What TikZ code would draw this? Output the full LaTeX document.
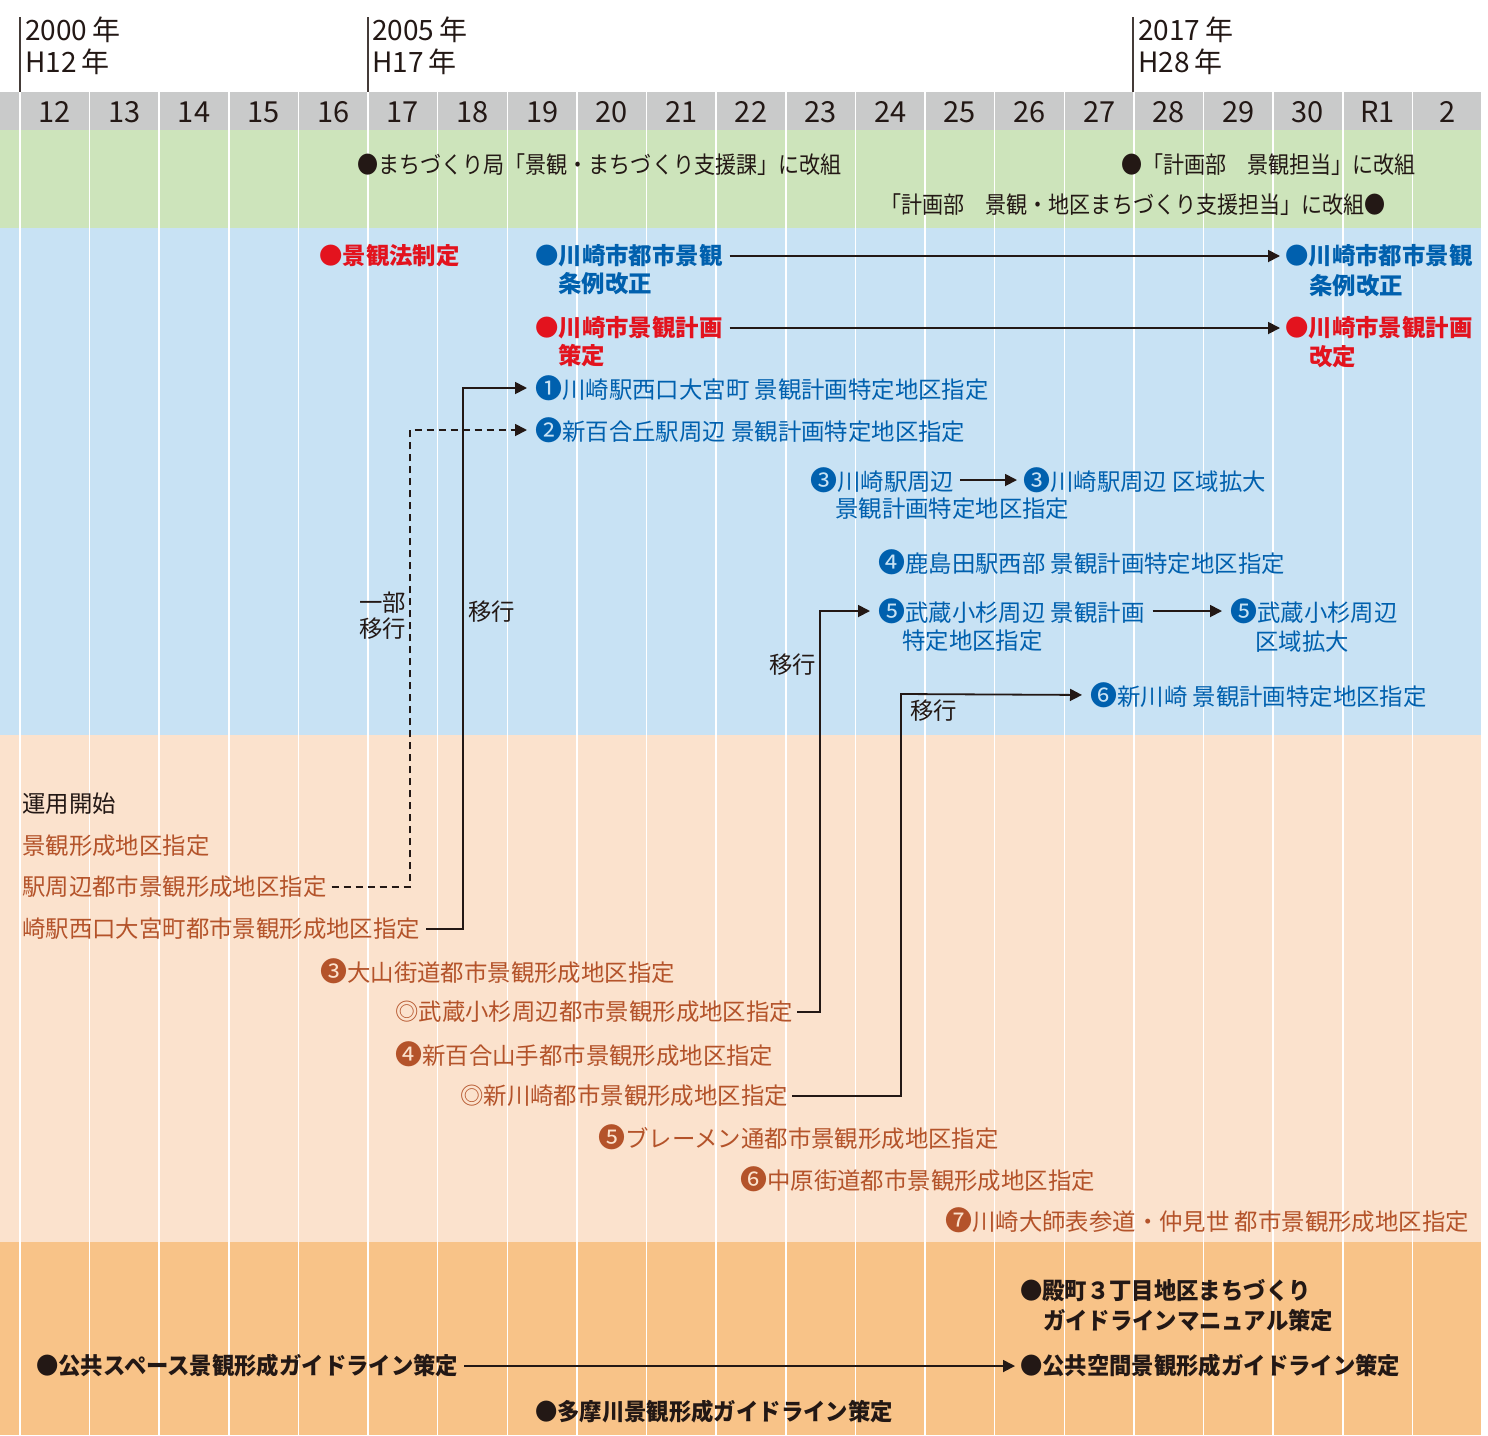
\documentclass[tikz,border=0pt]{standalone}
\usepackage{fontspec}
\setmainfont{Noto Sans CJK JP}
\newfontfamily\narrowfont{Noto Sans CJK JP}[FakeStretch=0.9]
\newfontfamily\bottomfont{Noto Sans CJK JP}[FakeStretch=0.955]
\usetikzlibrary{arrows.meta}
\definecolor{hdrgray}{HTML}{C9CACA}
\definecolor{bgreen}{HTML}{CDE4BB}
\definecolor{bblue}{HTML}{C8E2F4}
\definecolor{borange}{HTML}{FBE2CD}
\definecolor{bdeep}{HTML}{F8C388}
\definecolor{txtdark}{HTML}{231815}
\definecolor{txtblue}{HTML}{0060AE}
\definecolor{txtred}{HTML}{E3131E}
\definecolor{txtbrown}{HTML}{B4532A}
\newcommand{\fsz}{\fontsize{23.4}{28}\selectfont}
\newcommand{\fyr}{\fontsize{28}{30}\selectfont}
\newcommand{\fnum}{\fontsize{29}{32}\selectfont}
\newcommand{\cn}[1]{{\fontsize{27}{28}\selectfont #1}}
\tikzset{
  lbl/.style={anchor=west, inner sep=0pt, font=\fsz, text=txtdark},
  lble/.style={anchor=east, inner sep=0pt, font=\fsz, text=txtdark},
  narrowlbl/.style={lbl, font=\fsz\narrowfont},
  narrowlble/.style={lble, font=\fsz\narrowfont},
  bluebold/.style={lbl, text=txtblue, font=\fsz\bfseries},
  redbold/.style={lbl, text=txtred, font=\fsz\bfseries},
  bluereg/.style={lbl, text=txtblue},
  brown/.style={lbl, text=txtbrown},
  darkbold/.style={lbl, font=\fsz\bottomfont\bfseries},
  yearlbl/.style={anchor=west, inner sep=0pt, font=\fyr, text=txtdark},
  numlbl/.style={anchor=center, inner sep=0pt, font=\fnum, text=txtdark},
  conn/.style={draw=txtdark, line width=1.8pt, -{Triangle[length=12pt,width=12pt]}},
  dashconn/.style={conn, dash pattern=on 7pt off 5pt},
  colline/.style={draw=white, line width=1.5pt},
  markline/.style={draw=txtdark!85, line width=2pt}
}
\begin{document}
\begin{tikzpicture}[x=1pt,y=-1pt]
\useasboundingbox (0,0) rectangle (1488,1435);
\fill[white] (0,0) rectangle (1488,1435);
% bands
\fill[hdrgray] (0,92) rectangle (1482,130);
\fill[bgreen] (0,130) rectangle (1482,228);
\fill[bblue] (0,228) rectangle (1482,735);
\fill[borange] (0,735) rectangle (1482,1242);
\fill[bdeep] (0,1242) rectangle (1482,1435);
% column lines
\foreach \i in {0,...,21} {
  \draw[colline] ({20+\i*69.62},92) -- ({20+\i*69.62},1435);
}
% year markers
\draw[markline] (20,17) -- (20,92);
\draw[markline] (368,17) -- (368,92);
\draw[markline] (1133,17) -- (1133,92);
\node[yearlbl] (y2000) at (25,30) {2000\,年};
\node[yearlbl] (h12) at (25,62) {H12\,年};
\node[yearlbl] (y2005) at (372,30) {2005\,年};
\node[yearlbl] (h17) at (372,62) {H17\,年};
\node[yearlbl] (y2017) at (1138,30) {2017\,年};
\node[yearlbl] (h28) at (1138,62) {H28\,年};
% column numbers
\foreach \t [count=\i from 0] in {12,13,14,15,16,17,18,19,20,21,22,23,24,25,26,27,28,29,30,R1,2} {
  \node[numlbl] (col\i) at ({20+(\i+0.5)*69.62},112) {\t};
}
% green band
\node[narrowlbl] (g1) at (357,165) {●まちづくり局「景観・まちづくり支援課」に改組};
\node[narrowlbl] (g2) at (1121,165) {●「計画部　景観担当」に改組};
\node[narrowlble] (g3) at (1386,205) {「計画部　景観・地区まちづくり支援担当」に改組●};
% blue band
\node[redbold] (law) at (319,256) {●景観法制定};
\node[bluebold] (jo1) at (535,256) {●川崎市都市景観};
\node[bluebold] (jo1b) at (558,284) {条例改正};
\node[bluebold] (jo2) at (1285,256) {●川崎市都市景観};
\node[bluebold] (jo2b) at (1309,286) {条例改正};
\node[redbold] (pl1) at (535,328) {●川崎市景観計画};
\node[redbold] (pl1b) at (558,356) {策定};
\node[redbold] (pl2) at (1285,328) {●川崎市景観計画};
\node[redbold] (pl2b) at (1309,357) {改定};
\node[bluereg] (n1) at (535,388) {\cn{❶}川崎駅西口大宮町 景観計画特定地区指定};
\node[bluereg] (n2) at (535,430) {\cn{❷}新百合丘駅周辺 景観計画特定地区指定};
\node[bluereg] (n3) at (810,480) {\cn{❸}川崎駅周辺};
\node[bluereg] (n3b) at (835,509) {景観計画特定地区指定};
\node[bluereg] (n3x) at (1023,480) {\cn{❸}川崎駅周辺 区域拡大};
\node[bluereg] (n4) at (878,562) {\cn{❹}鹿島田駅西部 景観計画特定地区指定};
\node[bluereg] (n5) at (878,611) {\cn{❺}武蔵小杉周辺 景観計画};
\node[bluereg] (n5b) at (902,641) {特定地区指定};
\node[bluereg] (n5x) at (1230,611) {\cn{❺}武蔵小杉周辺};
\node[bluereg] (n5xb) at (1255,642) {区域拡大};
\node[bluereg] (n6) at (1090,695) {\cn{❻}新川崎 景観計画特定地区指定};
\node[lble] (m1a) at (406,603) {一部};
\node[lble] (m1b) at (406,629) {移行};
\node[lbl] (m2) at (468,612) {移行};
\node[lble] (m3) at (816,665) {移行};
\node[lbl] (m4) at (910,711) {移行};
% orange band
\node[lbl] (o0) at (22,804) {運用開始};
\node[brown] (o1) at (22,846) {景観形成地区指定};
\node[brown] (o2) at (22,887) {駅周辺都市景観形成地区指定};
\node[brown] (o3) at (22,929) {崎駅西口大宮町都市景観形成地区指定};
\node[brown] (o4) at (320,971) {\cn{❸}大山街道都市景観形成地区指定};
\node[brown] (o5) at (395,1012) {◎武蔵小杉周辺都市景観形成地区指定};
\node[brown] (o6) at (395,1054) {\cn{❹}新百合山手都市景観形成地区指定};
\node[brown] (o7) at (460,1096) {◎新川崎都市景観形成地区指定};
\node[brown] (o8) at (598,1137) {\cn{❺}ブレーメン通都市景観形成地区指定};
\node[brown] (o9) at (740,1179) {\cn{❻}中原街道都市景観形成地区指定};
\node[brown] (o10) at (945,1220) {\cn{❼}川崎大師表参道・仲見世 都市景観形成地区指定};
% bottom band
\node[darkbold] (gl1) at (1020,1291) {●殿町３丁目地区まちづくり};
\node[darkbold] (gl1b) at (1043,1321) {ガイドラインマニュアル策定};
\node[darkbold] (gl2) at (36,1366) {●公共スペース景観形成ガイドライン策定};
\node[darkbold] (gl3) at (1020,1366) {●公共空間景観形成ガイドライン策定};
\node[darkbold] (gl4) at (535,1412) {●多摩川景観形成ガイドライン策定};
% connector bend points
\coordinate (k1) at (463,388);
\coordinate (k2) at (410,430);
\coordinate (k3) at (820,611);
\coordinate (k4) at (901,694);
% connectors
\draw[conn, shorten <=7pt, shorten >=5pt] (jo1.east) -- (jo2.west);
\draw[conn, shorten <=7pt, shorten >=5pt] (pl1.east) -- (pl2.west);
\draw[conn, shorten <=6pt, shorten >=6pt] (n3.east) -- (n3x.west);
\draw[conn, shorten <=8pt, shorten >=8pt] (n5.east) -- (n5x.west);
\draw[conn, shorten <=6pt, shorten >=8pt] (o3.east) -| (k1) -- (n1.west);
\draw[dashconn, shorten <=5pt, shorten >=8pt] (o2.east) -| (k2) -- (n2.west);
\draw[conn, shorten <=4pt, shorten >=8pt] (o5.east) -| (k3) -- (n5.west);
\draw[conn, shorten <=4pt, shorten >=8pt] (o7.east) -| (k4) -- (n6.west);
\draw[conn, shorten <=6pt, shorten >=5pt] (gl2.east) -- (gl3.west);
\end{tikzpicture}
\end{document}
